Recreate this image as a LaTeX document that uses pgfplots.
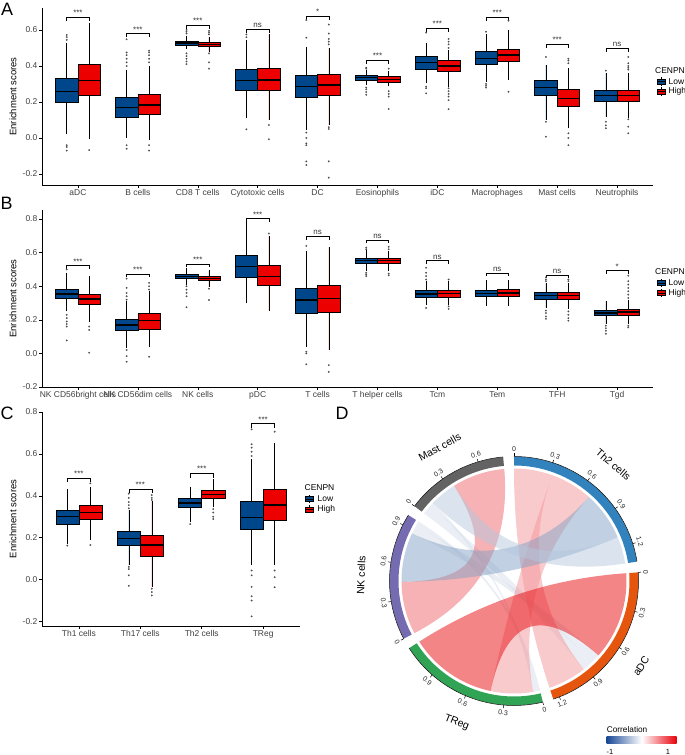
\documentclass[border=0pt]{standalone}
\usepackage{fontspec}
\setmainfont{Liberation Sans}
\usepackage{pgfplots}
\pgfplotsset{compat=1.18}
\usepgfplotslibrary{statistics}

\definecolor{lowc}{HTML}{00468B}
\definecolor{highc}{HTML}{ED0000}
\definecolor{cTh}{HTML}{3182BD}
\definecolor{caDC}{HTML}{E6550D}
\definecolor{cTR}{HTML}{31A354}
\definecolor{cNK}{HTML}{756BB1}
\definecolor{cMa}{HTML}{636363}
\definecolor{lRed}{RGB}{231,11,15}
\definecolor{lPink}{RGB}{237,101,105}
\definecolor{lLPink}{RGB}{243,149,153}
\definecolor{lBlue}{RGB}{131,161,197}
\definecolor{lLBlue}{RGB}{183,199,221}
\definecolor{lZero}{RGB}{215,223,235}
\definecolor{cbB}{RGB}{24,72,150}
\definecolor{cbR}{RGB}{232,0,10}

\newcommand{\fs}[1]{\fontsize{#1}{#1}\selectfont}

\pgfplotsset{bxax/.style={
  scale only axis, clip=false,
  axis x line=bottom, axis y line=left,
  axis line style={-, line width=0.5pt, black},
  tick align=outside, major tick length=3bp,
  tick style={black, line width=0.5pt},
  xtick={1,...,10},
  x tick label style={font=\fs{8.5}, text=black!75, inner sep=1.5bp},
  y tick label style={font=\fs{8.5}, text=black!75, inner sep=1.5bp},
  /pgf/number format/assume math mode=true,
  ylabel={Enrichment scores},
  every axis y label/.style={at={(axis description cs:0,0.5)}, xshift=-29bp, rotate=90, anchor=center, font=\fs{9.5}},
  boxplot/draw direction=y,
  boxplot/every median/.style={line width=1.3pt},
}}

% box: pos, lower whisker, lower quartile, median, upper quartile, upper whisker, colour, outliers
\newcommand{\bx}[8]{\addplot[draw=black, line width=0.5pt, fill=#7, mark=*, mark size=0.8bp,
  mark options={draw=black!70, fill=black!70, line width=0.2pt},
  boxplot prepared={draw position=#1, lower whisker=#2, lower quartile=#3, median=#4,
  upper quartile=#5, upper whisker=#6, box extend=0.375, whisker extend=0}] coordinates {#8};}

\newcommand{\sig}[3]{%
  \draw[black, line width=0.5pt] (axis cs:{#1-0.1875},{#2-0.02}) -- (axis cs:{#1-0.1875},#2) -- (axis cs:{#1+0.1875},#2) -- (axis cs:{#1+0.1875},{#2-0.02});
  \node[font=\fs{8}, anchor=base, inner sep=0pt, text=black!80] at (axis cs:#1,{#2+0.008}) {#3};}

\newcommand{\lkey}[3]{%
  \draw[black, line width=0.4pt] (#1,#2+2.5) -- (#1,#2+4.2);
  \draw[black, line width=0.4pt] (#1,#2-2.5) -- (#1,#2-4.2);
  \draw[black, line width=0.4pt, fill=#3] (#1-4,#2-2.5) rectangle (#1+4,#2+2.5);
  \draw[black, line width=0.8pt] (#1-4,#2) -- (#1+4,#2);}

% chord diagram
\def\kk{60.47}
\def\rl{112.5bp}
\def\rc{37.5bp}
\newcommand{\clink}[7]{%
  \pgfmathsetmacro\Aa{#1-\kk*#2}\pgfmathsetmacro\Ab{#1-\kk*#3}%
  \pgfmathsetmacro\Ba{#4-\kk*#5}\pgfmathsetmacro\Bb{#4-\kk*#6}%
  \fill[#7, fill opacity=0.5] (\Aa:\rl) arc[start angle=\Aa, end angle=\Ab, radius=\rl]
    .. controls (\Ab:\rc) and (\Ba:\rc) .. (\Ba:\rl) arc[start angle=\Ba, end angle=\Bb, radius=\rl]
    .. controls (\Bb:\rc) and (\Aa:\rc) .. cycle;}
\newcommand{\csector}[5]{%
  \pgfmathsetmacro\Se{#1-\kk*#2}%
  \fill[#3] (#1:124.3bp) arc[start angle=#1, end angle=\Se, radius=124.3bp] -- (\Se:115.5bp) arc[start angle=\Se, end angle=#1, radius=115.5bp] -- cycle;
  \draw[black, line width=0.5pt] (#1:124.5bp) arc[start angle=#1, end angle=\Se, radius=124.5bp];
  \foreach \p in {#5} {%
    \pgfmathsetmacro\ta{#1-\kk*\p}%
    \pgfmathsetmacro\tn{mod(\ta+720,360)}%
    \pgfmathsetmacro\tr{\tn<180 ? \tn-90 : \tn-270}%
    \draw[black, line width=0.5pt] (\ta:124.5bp) -- (\ta:127.5bp);
    \node[font=\fs{7}, rotate=\tr, inner sep=0pt, text=black!85] at (\ta:132bp) {\p};
  }
  \pgfmathsetmacro\ma{#1-\kk*#2/2}%
  \pgfmathsetmacro\mn{mod(\ma+720,360)}%
  \pgfmathsetmacro\mr{\mn<180 ? \mn-90 : \mn-270}%
  \node[font=\fs{10.5}, rotate=\mr, inner sep=0pt] at (\ma:153bp) {#4};}

\begin{document}
\begin{tikzpicture}[x=1bp, y=1bp]
\path[use as bounding box] (0,0) rectangle (685,755);

% ---------------- Panel A ----------------
\begin{axis}[bxax, at={(42bp,570bp)}, anchor=south west, width=611bp, height=177bp,
  xmin=0.4, xmax=10.6, ymin=-0.261, ymax=0.722,
  ytick={-0.2,0,0.2,0.4,0.6}, yticklabels={-0.2,0.0,0.2,0.4,0.6},
  xticklabels={aDC,B cells,CD8 T cells,Cytotoxic cells,DC,Eosinophils,iDC,Macrophages,Mast cells,Neutrophils}]
\bx{0.8125}{0.02}{0.196}{0.257}{0.331}{0.53}{lowc}{(0,0.545)(0,0.56)(0,0.572)(0,-0.04)(0,-0.05)(0,-0.07)}
\bx{1.1875}{-0.007}{0.235}{0.319}{0.411}{0.637}{highc}{(0,-0.067)}
\sig{1}{0.67}{***}
\bx{1.8125}{0.0}{0.115}{0.170}{0.224}{0.38}{lowc}{(0,0.40)(0,0.42)(0,0.44)(0,0.46)(0,0.475)(0,0.548)(0,-0.04)(0,-0.06)}
\bx{2.1875}{-0.01}{0.133}{0.183}{0.243}{0.40}{highc}{(0,0.42)(0,0.44)(0,0.46)(0,0.475)(0,0.485)(0,-0.04)(0,-0.07)}
\sig{2}{0.58}{***}
\bx{2.8125}{0.495}{0.517}{0.527}{0.539}{0.565}{lowc}{(0,0.47)(0,0.455)(0,0.44)(0,0.425)(0,0.41)(0,0.58)(0,0.59)(0,0.60)}
\bx{3.1875}{0.48}{0.507}{0.519}{0.531}{0.56}{highc}{(0,0.47)(0,0.42)(0,0.385)(0,0.575)(0,0.585)(0,0.595)}
\sig{3}{0.628}{***}
\bx{3.8125}{0.11}{0.267}{0.32}{0.381}{0.545}{lowc}{(0,0.56)(0,0.575)(0,0.048)}
\bx{4.1875}{0.10}{0.267}{0.322}{0.387}{0.575}{highc}{(0,0.072)(0,-0.007)}
\sig{4}{0.605}{ns}
\bx{4.8125}{0.045}{0.226}{0.285}{0.35}{0.507}{lowc}{(0,0.03)(0,0.0)(0,-0.03)(0,-0.04)(0,-0.13)(0,-0.15)(0,0.557)(0,0.655)}
\bx{5.1875}{0.07}{0.239}{0.294}{0.352}{0.50}{highc}{(0,0.52)(0,0.535)(0,0.55)(0,0.58)(0,0.63)(0,0.06)(0,0.05)(0,-0.13)(0,-0.22)}
\sig{5}{0.678}{*}
\bx{5.8125}{0.295}{0.32}{0.335}{0.35}{0.375}{lowc}{(0,0.28)(0,0.27)(0,0.255)(0,0.24)(0,0.385)(0,0.39)}
\bx{6.1875}{0.29}{0.307}{0.324}{0.341}{0.37}{highc}{(0,0.26)(0,0.245)(0,0.23)(0,0.161)(0,0.385)}
\sig{6}{0.433}{***}
\bx{6.8125}{0.304}{0.383}{0.42}{0.452}{0.526}{lowc}{(0,0.285)(0,0.276)(0,0.248)(0,0.585)}
\bx{7.1875}{0.285}{0.368}{0.40}{0.433}{0.49}{highc}{(0,0.276)(0,0.26)(0,0.245)(0,0.23)(0,0.21)(0,0.16)(0,0.50)(0,0.52)(0,0.535)(0,0.55)}
\sig{7}{0.61}{***}
\bx{7.8125}{0.31}{0.409}{0.44}{0.48}{0.58}{lowc}{(0,0.59)(0,0.30)(0,0.29)(0,0.28)}
\bx{8.1875}{0.322}{0.424}{0.461}{0.494}{0.6}{highc}{(0,0.257)(0,0.652)}
\sig{8}{0.67}{***}
\bx{8.8125}{0.10}{0.235}{0.281}{0.322}{0.405}{lowc}{(0,0.45)(0,0.09)(0,0.007)}
\bx{9.1875}{0.054}{0.178}{0.22}{0.27}{0.387}{highc}{(0,0.415)(0,0.43)(0,0.44)(0,0.026)(0,0.0)(0,-0.04)}
\sig{9}{0.522}{***}
\bx{9.8125}{0.119}{0.204}{0.235}{0.267}{0.36}{lowc}{(0,0.374)(0,0.09)(0,0.07)(0,0.054)}
\bx{10.1875}{0.11}{0.204}{0.235}{0.267}{0.36}{highc}{(0,0.38)(0,0.39)(0,0.40)(0,0.415)(0,0.45)(0,0.104)(0,0.063)(0,0.026)}
\sig{10}{0.50}{ns}
\end{axis}

% ---------------- Panel B ----------------
\begin{axis}[bxax, at={(42bp,368bp)}, anchor=south west, width=611bp, height=177bp,
  xmin=0.4, xmax=10.6, ymin=-0.2, ymax=0.854,
  ytick={-0.2,0,0.2,0.4,0.6,0.8}, yticklabels={-0.2,0.0,0.2,0.4,0.6,0.8},
  xticklabels={NK CD56bright cells,NK CD56dim cells,NK cells,pDC,T cells,T helper cells,Tcm,Tem,TFH,Tgd}]
\bx{0.8125}{0.25}{0.330}{0.354}{0.384}{0.48}{lowc}{(0,0.5)(0,0.23)(0,0.21)(0,0.19)(0,0.175)(0,0.16)(0,0.077)}
\bx{1.1875}{0.186}{0.291}{0.324}{0.354}{0.463}{highc}{(0,0.16)(0,0.14)(0,0.004)}
\sig{1}{0.522}{***}
\bx{1.8125}{0.035}{0.137}{0.170}{0.206}{0.31}{lowc}{(0,0.32)(0,0.34)(0,0.36)(0,0.39)(0,0.445)(0,0.02)(0,-0.016)(0,-0.05)}
\bx{2.1875}{0.04}{0.146}{0.196}{0.239}{0.37}{highc}{(0,0.38)(0,0.40)(0,0.42)(0,-0.02)}
\sig{2}{0.473}{***}
\bx{2.8125}{0.41}{0.447}{0.459}{0.473}{0.51}{lowc}{(0,0.40)(0,0.38)(0,0.36)(0,0.34)(0,0.275)}
\bx{3.1875}{0.395}{0.433}{0.446}{0.459}{0.495}{highc}{(0,0.385)(0,0.318)}
\sig{3}{0.532}{***}
\bx{3.8125}{0.30}{0.453}{0.518}{0.582}{0.78}{lowc}{}
\bx{4.1875}{0.255}{0.408}{0.459}{0.522}{0.70}{highc}{(0,0.714)}
\sig{4}{0.803}{***}
\bx{4.8125}{0.04}{0.241}{0.318}{0.388}{0.611}{lowc}{(0,0.64)(0,0.01)(0,0.0)(0,-0.065)}
\bx{5.1875}{0.02}{0.245}{0.328}{0.403}{0.631}{highc}{(0,-0.07)(0,-0.11)}
\sig{5}{0.698}{ns}
\bx{5.8125}{0.49}{0.536}{0.552}{0.568}{0.615}{lowc}{(0,0.48)(0,0.47)(0,0.46)(0,0.62)(0,0.63)}
\bx{6.1875}{0.49}{0.537}{0.553}{0.569}{0.61}{highc}{(0,0.475)(0,0.465)(0,0.62)(0,0.635)}
\sig{6}{0.676}{ns}
\bx{6.8125}{0.29}{0.334}{0.354}{0.378}{0.43}{lowc}{(0,0.44)(0,0.46)(0,0.48)(0,0.51)(0,0.27)}
\bx{7.1875}{0.29}{0.334}{0.358}{0.378}{0.43}{highc}{(0,0.28)(0,0.265)(0,0.44)}
\sig{7}{0.552}{ns}
\bx{7.8125}{0.285}{0.338}{0.358}{0.378}{0.437}{lowc}{}
\bx{8.1875}{0.285}{0.34}{0.36}{0.38}{0.437}{highc}{}
\sig{8}{0.48}{ns}
\bx{8.8125}{0.27}{0.324}{0.344}{0.364}{0.42}{lowc}{(0,0.255)(0,0.24)(0,0.22)(0,0.206)(0,0.43)(0,0.44)(0,0.453)}
\bx{9.1875}{0.265}{0.325}{0.346}{0.365}{0.42}{highc}{(0,0.25)(0,0.23)(0,0.21)(0,0.195)(0,0.43)(0,0.44)}
\sig{9}{0.467}{ns}
\bx{9.8125}{0.176}{0.226}{0.241}{0.259}{0.315}{lowc}{(0,0.165)(0,0.15)(0,0.135)(0,0.117)}
\bx{10.1875}{0.176}{0.229}{0.247}{0.265}{0.32}{highc}{(0,0.33)(0,0.35)(0,0.37)(0,0.39)(0,0.41)(0,0.43)(0,0.463)(0,0.165)(0,0.155)}
\sig{10}{0.493}{*}
\end{axis}

% ---------------- Panel C ----------------
\begin{axis}[bxax, at={(42bp,129bp)}, anchor=south west, width=258bp, height=214bp,
  xmin=0.4, xmax=4.6, ymin=-0.222, ymax=0.80, xtick={1,2,3,4},
  ytick={-0.2,0,0.2,0.4,0.6,0.8}, yticklabels={-0.2,0.0,0.2,0.4,0.6,0.8},
  xticklabels={Th1 cells,Th17 cells,Th2 cells,TReg}]
\bx{0.8125}{0.17}{0.265}{0.302}{0.332}{0.432}{lowc}{(0,0.162)}
\bx{1.1875}{0.19}{0.289}{0.321}{0.356}{0.44}{highc}{(0,0.165)(0,0.459)}
\sig{1}{0.484}{***}
\bx{1.8125}{0.067}{0.162}{0.197}{0.23}{0.33}{lowc}{(0,0.34)(0,0.355)(0,0.37)(0,0.39)(0,0.41)(0,0.06)(0,0.05)(0,0.02)(0,-0.03)}
\bx{2.1875}{-0.037}{0.111}{0.165}{0.213}{0.376}{highc}{(0,0.38)(0,0.39)(0,0.403)(0,-0.044)(0,-0.06)(0,-0.076)}
\sig{2}{0.433}{***}
\bx{2.8125}{0.273}{0.344}{0.365}{0.389}{0.443}{lowc}{(0,0.265)}
\bx{3.1875}{0.344}{0.389}{0.405}{0.424}{0.479}{highc}{(0,0.336)(0,0.32)(0,0.30)(0,0.289)}
\sig{3}{0.506}{***}
\bx{3.8125}{0.067}{0.241}{0.297}{0.376}{0.575}{lowc}{(0,0.59)(0,0.61)(0,0.63)(0,0.646)(0,0.717)(0,0.043)(0,0.02)(0,-0.035)(0,-0.08)(0,-0.1)(0,-0.176)}
\bx{4.1875}{0.067}{0.281}{0.356}{0.432}{0.654}{highc}{(0,0.043)(0,0.011)(0,-0.037)(0,0.706)}
\sig{4}{0.744}{***}
\end{axis}

% ---------------- Panel D (chord diagram) ----------------
\begin{axis}[at={(514bp,174bp)}, anchor=origin, x=1bp, y=1bp,
  xmin=-170, xmax=170, ymin=-170, ymax=170, hide axis, clip=false]
\pgfplotsextra{%
\begin{pgfscope}
\pgftransformshift{\pgfplotspointaxisxy{0}{0}}
% links: sector start, from, to, sector start, from, to, colour
\clink{3.97}{0.75}{0.83}{-152.37}{0.87}{0.95}{lZero}
\clink{3.97}{0.83}{0.92}{-216.93}{0}{0.09}{lZero}
\clink{-76.62}{0}{0.035}{-152.37}{0.95}{0.985}{lZero}
\clink{-76.62}{0.035}{0.06}{-216.93}{0.09}{0.115}{lZero}
\clink{-152.37}{0}{0.45}{-216.93}{0.345}{0.795}{lPink}
\clink{90}{0}{0.33}{3.97}{0.92}{1.25}{lLPink}
\clink{90}{0.33}{0.69}{-76.62}{0.06}{0.42}{lLPink}
\clink{90}{0.69}{1.11}{-152.37}{0.45}{0.87}{lBlue}
\clink{90}{1.11}{1.34}{-216.93}{0.115}{0.345}{lLBlue}
\clink{3.97}{0}{0.75}{-76.62}{0.42}{1.17}{lRed}
% sectors: start, length, colour, name, ticks
\csector{90}{1.34}{cTh}{Th2 cells}{0,0.3,0.6,0.9,1.2}
\csector{3.97}{1.25}{caDC}{aDC}{0,0.3,0.6,0.9,1.2}
\csector{-76.62}{1.17}{cTR}{TReg}{0,0.3,0.6,0.9}
\csector{-152.37}{0.985}{cNK}{NK cells}{0,0.3,0.6,0.9}
\csector{-216.93}{0.795}{cMa}{Mast cells}{0,0.3,0.6}
\end{pgfscope}}
\end{axis}

% colour bar of panel D
\node[font=\fs{8.3}, anchor=base west, inner sep=0pt] at (606.7,22) {Correlation};
\shade[left color=cbB, right color=cbR, middle color=white] (606.7,11.7) rectangle (676.7,18.3);
\node[font=\fs{7.5}, anchor=base, inner sep=0pt] at (610,0.8) {-1};
\node[font=\fs{7.5}, anchor=base, inner sep=0pt] at (668,0.8) {1};

% legends
\node[font=\fs{8.5}, anchor=west, inner sep=0pt] at (655,684) {CENPN};
\lkey{661}{673.5}{lowc}\lkey{661}{663.5}{highc}
\node[font=\fs{8.5}, anchor=west, inner sep=0pt] at (668.5,673.5) {Low};
\node[font=\fs{8.5}, anchor=west, inner sep=0pt] at (668.5,663.5) {High};

\node[font=\fs{8.5}, anchor=west, inner sep=0pt] at (655,483.3) {CENPN};
\lkey{661}{472}{lowc}\lkey{661}{462}{highc}
\node[font=\fs{8.5}, anchor=west, inner sep=0pt] at (668.5,472) {Low};
\node[font=\fs{8.5}, anchor=west, inner sep=0pt] at (668.5,462) {High};

\node[font=\fs{8.5}, anchor=west, inner sep=0pt] at (304.5,267) {CENPN};
\lkey{309.5}{256}{lowc}\lkey{309.5}{245.7}{highc}
\node[font=\fs{8.5}, anchor=west, inner sep=0pt] at (317.5,256) {Low};
\node[font=\fs{8.5}, anchor=west, inner sep=0pt] at (317.5,245.7) {High};

% panel letters
\node[font=\fs{18}, inner sep=0pt] at (7,746) {A};
\node[font=\fs{18}, inner sep=0pt] at (6.5,552) {B};
\node[font=\fs{18}, inner sep=0pt] at (7,342) {C};
\node[font=\fs{18}, inner sep=0pt] at (342,342) {D};
\end{tikzpicture}
\end{document}
